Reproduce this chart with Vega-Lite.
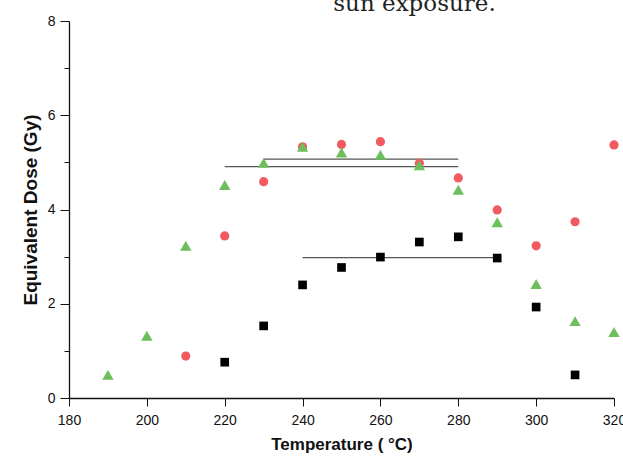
{
  "$schema": "https://vega.github.io/schema/vega-lite/v6.json",
  "autosize": "none",
  "width": 545,
  "height": 377,
  "padding": {"left": 69, "top": 21, "right": 9, "bottom": 58},
  "background": "white",
  "config": {"view": {"stroke": null}},
  "title": {
    "text": "sun exposure.",
    "font": "DejaVu Serif",
    "fontSize": 23,
    "fontWeight": "normal",
    "color": "#222222",
    "frame": "group",
    "anchor": "middle",
    "offset": -2,
    "dx": 73
  },
  "datasets": {
    "pts": [
      {"series": "red", "t": 210, "d": 0.89},
      {"series": "red", "t": 220, "d": 3.44},
      {"series": "red", "t": 230, "d": 4.59},
      {"series": "red", "t": 240, "d": 5.33},
      {"series": "red", "t": 250, "d": 5.38},
      {"series": "red", "t": 260, "d": 5.44},
      {"series": "red", "t": 270, "d": 4.98},
      {"series": "red", "t": 280, "d": 4.67},
      {"series": "red", "t": 290, "d": 3.99},
      {"series": "red", "t": 300, "d": 3.23},
      {"series": "red", "t": 310, "d": 3.74},
      {"series": "red", "t": 320, "d": 5.37},
      {"series": "green", "t": 190, "d": 0.49},
      {"series": "green", "t": 200, "d": 1.32},
      {"series": "green", "t": 210, "d": 3.23},
      {"series": "green", "t": 220, "d": 4.52},
      {"series": "green", "t": 230, "d": 4.99},
      {"series": "green", "t": 240, "d": 5.33},
      {"series": "green", "t": 250, "d": 5.21},
      {"series": "green", "t": 260, "d": 5.16},
      {"series": "green", "t": 270, "d": 4.94},
      {"series": "green", "t": 280, "d": 4.42},
      {"series": "green", "t": 290, "d": 3.73},
      {"series": "green", "t": 300, "d": 2.42},
      {"series": "green", "t": 310, "d": 1.63},
      {"series": "green", "t": 320, "d": 1.40},
      {"series": "black", "t": 220, "d": 0.76},
      {"series": "black", "t": 230, "d": 1.53},
      {"series": "black", "t": 240, "d": 2.40},
      {"series": "black", "t": 250, "d": 2.77},
      {"series": "black", "t": 260, "d": 2.99},
      {"series": "black", "t": 270, "d": 3.31},
      {"series": "black", "t": 280, "d": 3.42},
      {"series": "black", "t": 290, "d": 2.97},
      {"series": "black", "t": 300, "d": 1.93},
      {"series": "black", "t": 310, "d": 0.49}
    ],
    "lines": [
      {"t1": 230, "t2": 280, "d": 5.07},
      {"t1": 220, "t2": 280, "d": 4.91},
      {"t1": 240, "t2": 290, "d": 2.98}
    ]
  },
  "encoding": {
    "y": {
      "field": "d",
      "type": "quantitative",
      "scale": {"domain": [0, 8], "nice": false},
      "axis": {
        "title": "Equivalent Dose (Gy)",
        "titleFont": "Liberation Sans",
        "titleFontSize": 19,
        "titleFontWeight": "bold",
        "titleColor": "#111111",
        "titlePadding": 7,
        "values": [0, 1, 2, 3, 4, 5, 6, 7, 8],
        "labelExpr": "datum.value % 2 === 0 ? datum.label : ''",
        "labelOverlap": false,
        "labelFlush": false,
        "labelFont": "Liberation Sans",
        "labelFontSize": 14,
        "labelColor": "#111111",
        "labelPadding": 5,
        "tickSize": {"condition": {"test": "datum.value % 2 === 0", "value": 9}, "value": 5},
        "tickColor": "#111111",
        "domainColor": "#111111",
        "domainWidth": 1.3,
        "grid": false
      }
    }
  },
  "layer": [
    {
      "data": {"name": "lines"},
      "mark": {"type": "rule", "color": "#555555", "strokeWidth": 1.3},
      "encoding": {
        "x": {
          "field": "t1",
          "type": "quantitative",
          "scale": {"domain": [180, 320], "nice": false, "zero": false},
          "axis": {
            "title": "Temperature ( °C)",
            "titleFont": "Liberation Sans",
            "titleFontSize": 17,
            "titleFontWeight": "bold",
            "titleColor": "#111111",
            "titlePadding": 9,
            "values": [180, 190, 200, 210, 220, 230, 240, 250, 260, 270, 280, 290, 300, 310, 320],
            "labelExpr": "datum.value % 20 === 0 ? datum.label : ''",
            "labelOverlap": false,
            "labelFlush": false,
            "labelFont": "Liberation Sans",
            "labelFontSize": 14,
            "labelColor": "#111111",
            "labelPadding": 7,
            "tickSize": {"condition": {"test": "datum.value % 20 === 0", "value": 8}, "value": 5},
            "tickColor": "#111111",
            "domainColor": "#111111",
            "domainWidth": 1.3,
            "grid": false
          }
        },
        "x2": {"field": "t2"}
      }
    },
    {
      "data": {"name": "pts"},
      "transform": [{"filter": "datum.series === 'red'"}],
      "mark": {"type": "circle", "color": "#f05a60", "opacity": 1, "size": 85},
      "encoding": {"x": {"field": "t", "type": "quantitative"}}
    },
    {
      "data": {"name": "pts"},
      "transform": [{"filter": "datum.series === 'green'"}],
      "mark": {"type": "point", "shape": "triangle-up", "filled": true, "color": "#6cbf5c", "opacity": 1, "size": 130},
      "encoding": {"x": {"field": "t", "type": "quantitative"}}
    },
    {
      "data": {"name": "pts"},
      "transform": [{"filter": "datum.series === 'black'"}],
      "mark": {"type": "square", "color": "#000000", "opacity": 1, "size": 75},
      "encoding": {"x": {"field": "t", "type": "quantitative"}}
    }
  ]
}
